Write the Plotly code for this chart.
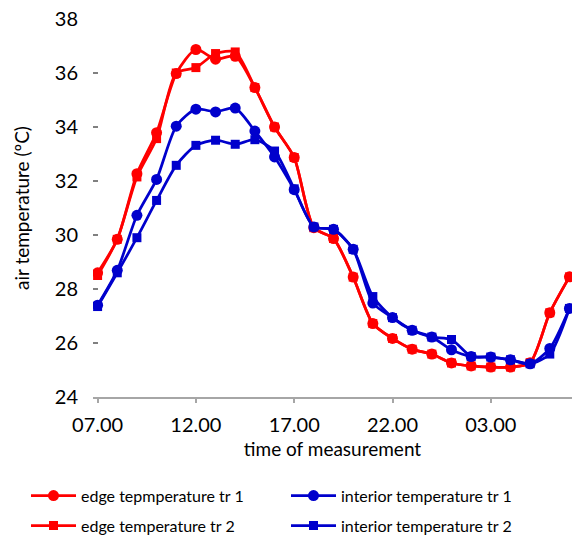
import plotly.graph_objects as go

times = ["07.00", "08.00", "09.00", "10.00", "11.00", "12.00", "13.00", "14.00",
         "15.00", "16.00", "17.00", "18.00", "19.00", "20.00", "21.00", "22.00",
         "23.00", "00.00", "01.00", "02.00", "03.00", "04.00", "05.00", "06.00", "07.00 "]
tick_labels = ["07.00", "12.00", "17.00", "22.00", "03.00"]

edge_tr1 = [28.6, 29.84, 32.27, 33.79, 35.98, 36.87, 36.51, 36.62, 35.46, 34.0,
            32.87, 30.27, 29.87, 28.44, 26.72, 26.17, 25.77, 25.59, 25.26, 25.15,
            25.11, 25.11, 25.27, 27.12, 28.45]
edge_tr2 = [28.5, 29.84, 32.15, 33.57, 36.0, 36.2, 36.72, 36.78, 35.46, 34.0,
            32.87, 30.27, 29.87, 28.44, 26.72, 26.17, 25.77, 25.59, 25.26, 25.15,
            25.11, 25.11, 25.27, 27.12, 28.45]
interior_tr1 = [27.4, 28.69, 30.73, 32.06, 34.03, 34.66, 34.56, 34.7, 33.85, 32.89,
                31.68, 30.3, 30.21, 29.47, 27.48, 26.94, 26.47, 26.22, 25.75, 25.5,
                25.48, 25.38, 25.23, 25.8, 27.28]
interior_tr2 = [27.35, 28.6, 29.9, 31.28, 32.58, 33.32, 33.51, 33.36, 33.53, 33.11,
                31.71, 30.3, 30.21, 29.47, 27.72, 26.94, 26.47, 26.22, 26.13, 25.5,
                25.48, 25.38, 25.23, 25.59, 27.28]

RED = "#FF0000"
BLUE = "#0000CC"
FONT = "Lato, 'Liberation Sans', sans-serif"

fig = go.Figure()

def add(name, y, color, symbol, size, legend):
    fig.add_trace(go.Scatter(
        x=times, y=y, name=name, mode="lines+markers",
        line=dict(color=color, width=2.75, shape="spline", smoothing=0.7),
        marker=dict(color=color, symbol=symbol, size=size),
        legend=legend,
    ))

add("edge temperature tr 2", edge_tr2, RED, "square", 9, "legend3")
add("edge tepmperature tr 1", edge_tr1, RED, "circle", 11, "legend")
add("interior temperature tr 1", interior_tr1, BLUE, "circle", 11, "legend2")
add("interior temperature tr 2", interior_tr2, BLUE, "square", 9, "legend4")

def leg(xpx, ypx):
    return dict(
        orientation="h", xref="container", yref="container",
        x=xpx / 572, y=1 - ypx / 537,
        xanchor="left", yanchor="middle",
        itemwidth=45, font=dict(family=FONT, size=16, color="#000000"),
        bgcolor="rgba(0,0,0,0)", borderwidth=0,
    )

fig.update_layout(
    width=572, height=537,
    margin=dict(l=93, r=0, t=19, b=140, pad=0),
    paper_bgcolor="white", plot_bgcolor="white",
    font=dict(family=FONT, size=19, color="#000000"),
    showlegend=True,
    legend=leg(26, 495.7),
    legend2=leg(286, 495.7),
    legend3=leg(26, 525.7),
    legend4=leg(286, 525.7),
    xaxis=dict(
        type="category", categoryorder="array", categoryarray=times,
        range=[-0.234, 24.13],
        tickmode="array", tickvals=tick_labels, ticktext=tick_labels,
        showgrid=False, zeroline=False,
        showline=True, linecolor="#A6A6A6", linewidth=1.5,
        ticks="outside", ticklen=4, tickwidth=1.5, tickcolor="#A6A6A6",
        ticklabelstandoff=5,
        tickfont=dict(family=FONT, size=20, color="#000000"),
        title=dict(text="time of measurement", standoff=8,
                   font=dict(family=FONT, size=19, color="#000000")),
    ),
    yaxis=dict(
        range=[24, 38], tickmode="array", tickvals=[24, 26, 28, 30, 32, 34, 36, 38],
        showgrid=False, zeroline=False, showline=False,
        ticks="inside", ticklen=5, tickwidth=1.5, tickcolor="#808080",
        ticklabelstandoff=14,
        tickfont=dict(family=FONT, size=20, color="#000000"),
        title=dict(text="air temperature (ºC)", standoff=20,
                   font=dict(family=FONT, size=19, color="#000000")),
    ),
)

fig.write_html("out.html")
